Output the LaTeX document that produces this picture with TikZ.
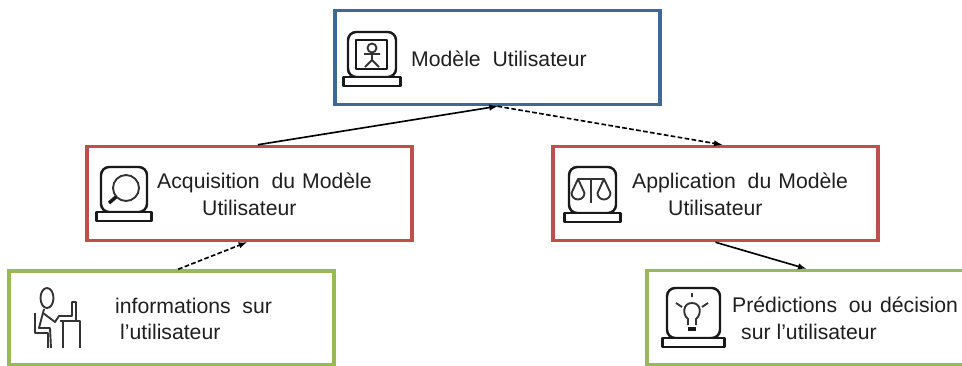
\documentclass[tikz,border=0pt]{standalone}
\usepackage{fontspec}
\setmainfont{Liberation Sans}
\tikzset{
  box/.style={rectangle, draw, line width=3pt, minimum width=9.75cm, minimum height=2.82cm, inner sep=0pt, fill=white},
  lbl/.style={anchor=base west, inner sep=0pt, text=black!88, font=\fontsize{18.1}{20}\selectfont},
  icon/.style={draw=black!90, line width=2.1pt, line join=round},
  thinicon/.style={draw=black!80, line width=1.6pt, line join=round},
  link/.style={-latex, line width=1.4pt, black},
  dashlink/.style={link, dash pattern=on 4pt off 2pt},
}
\definecolor{boxblue}{HTML}{3F6797}
\definecolor{boxred}{HTML}{BE4F4C}
\definecolor{boxgreen}{HTML}{98BA55}
% left, right, top, bottom of the screen
\newcommand{\monitoricon}[4]{
\draw[icon, rounded corners=7pt] (#1,#3) rectangle (#2,#4);
\draw[icon, fill=white] (#1-4.5,#4) rectangle (#2+4.5,#4+9);
}
\begin{document}
\begin{tikzpicture}[x=0.03cm, y=-0.03cm]
\useasboundingbox (0,0) rectangle (962,365);
% boxes
\node[box, draw=boxblue] (modele) at (497.5,57.5){};
\node[box, draw=boxred] (acquisition) at (249.5,193.5){};
\node[box, draw=boxred] (application) at (715.5,193.5){};
\node[box, draw=boxgreen] (infos) at (171.5,318){};
\node[box, draw=boxgreen] (predictions) at (809.5,317.5){};
% links
\draw[link] ([xshift=.25cm]acquisition.north) -- (modele.south);
\draw[dashlink] (modele.south) -- ([xshift=.2cm]application.north);
\draw[dashlink] ([xshift=.2cm]infos.north) -- ([xshift=-.08cm]acquisition.south);
\draw[link] (application.south) -- ([xshift=-.1cm]predictions.north);
% labels
\node[lbl] (lblmodele) at (411,66) {Modèle~~Utilisateur};
\node[lbl] (lblacq) at (157,188) {Acquisition~~du~\kern1pt Modèle};
\node[lbl] (lblacqb) at (202,215) {Utilisateur};
\node[lbl] (lblapp) at (632,188) {Application~~du~\kern1pt Modèle};
\node[lbl] (lblappb) at (668,215) {Utilisateur};
\node[lbl] (lblinfos) at (115,313) {informations~~sur};
\node[lbl] (lblinfosb) at (120,339) {l’utilisateur};
\node[lbl] (lblpred) at (732,312) {Prédictions~~ou~\kern1.5pt décision};
\node[lbl] (lblpredb) at (741,339) {sur l’utilisateur};
% user icon
\monitoricon{348}{396}{32}{77}
\draw[icon] (356,40) rectangle (387,69);
\draw[thinicon] (372,48) circle[radius=4.5];
\draw[thinicon] (372,53) -- (372,60) (364,54) -- (380,54) (372,60) -- (365,67) (372,60) -- (379,67);
% magnifier icon
\monitoricon{101}{147}{167}{212}
\draw[thinicon] (126,188) circle[radius=13];
\draw[icon, line width=3pt] (109,203) -- (116,197);
% scales icon
\monitoricon{569}{616}{167}{213}
\draw[thinicon] (578,179) -- (604,179) (591,178) -- (591,203);
\draw[thinicon] (578,179) -- (571.5,193) arc[start angle=180, end angle=0, radius=6.5] -- cycle;
\draw[thinicon] (604,179) -- (597.5,193) arc[start angle=180, end angle=0, radius=6.5] -- cycle;
% bulb icon
\monitoricon{667}{720}{288}{338}
\draw[thinicon] (688,325) -- (688,319) .. controls (682,314) and (683,303) .. (692,303) .. controls (701,303) and (702,314) .. (696,319) -- (696,325);
\draw[icon, line width=4pt] (688,329) -- (696,329);
\draw[thinicon] (692,293) -- (692,297) (676,303) -- (682,307) (708,303) -- (702,307);
% person icon
\draw[thinicon] (47,298) ellipse[x radius=6.5, y radius=10];
\draw[thinicon] (44,309) -- (39,328) -- (50,328) -- (51,348);
\draw[thinicon] (43,313) -- (55,322) -- (59,316) -- (72,316) -- (72,302) -- (76,302) -- (76,321);
\draw[thinicon] (35,313) -- (35,333) -- (48,333) -- (48,348);
\draw[thinicon] (60,321) -- (80,321) -- (80,348) (63,321) -- (63,348);
\end{tikzpicture}
\end{document}
